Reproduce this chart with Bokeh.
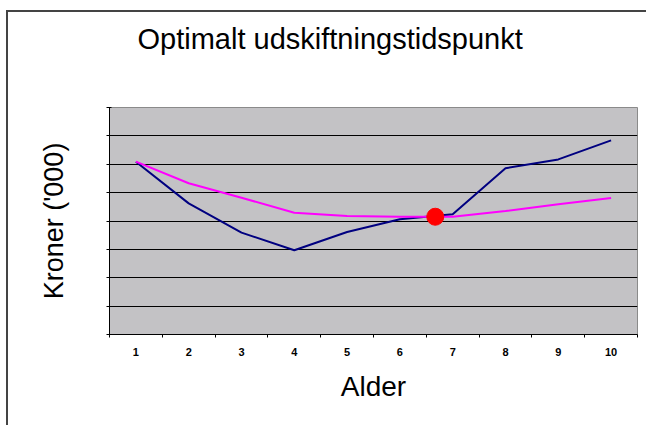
from bokeh.plotting import figure
from bokeh.models import Range1d, FixedTicker, CustomJSTickFormatter, Title
from bokeh.embed import file_html
from bokeh.resources import INLINE

# Data
ages = [1, 2, 3, 4, 5, 6, 7, 8, 9, 10]
total_cost = [6.09, 4.62, 3.59, 2.97, 3.61, 4.06, 4.24, 5.86, 6.17, 6.84]
avg_cost = [6.09, 5.33, 4.82, 4.29, 4.18, 4.15, 4.15, 4.35, 4.59, 4.81]
optimum_age = [6.67]
optimum_value = [4.15]
y_ticks = [0, 1, 2, 3, 4, 5, 6, 7, 8]
x_bounds = [0.5, 1.5, 2.5, 3.5, 4.5, 5.5, 6.5, 7.5, 8.5, 9.5, 10.5]
title_text = "Optimalt udskiftningstidspunkt"

FONT = "Liberation Sans"

p = figure(width=640, height=415, output_backend="svg", toolbar_location=None,
           x_range=Range1d(0.5, 10.5), y_range=Range1d(0, 8),
           min_border_left=101, min_border_right=11, min_border_top=95,
           min_border_bottom=93, title=title_text)

p.styles = {"margin-left": "6px", "margin-top": "10px",
            "border-top": "2px solid #444444", "border-left": "2px solid #444444"}
p.background_fill_color = "#C3C2C5"
p.border_fill_color = "white"
p.outline_line_color = "#8a8a8a"
p.outline_line_width = 1

# title (outermost panel) plus an empty spacer panel between it and the frame
p.title.align = "left"
p.title.offset = 28
p.title.standoff = 0
p.title.text_font = FONT
p.title.text_font_size = "29px"
p.title.text_font_style = "normal"
p.title.text_color = "black"
spacer = Title(text=" ", text_font_size="1px", standoff=50)
p.add_layout(spacer, "above")

# grid
p.xgrid.grid_line_color = None
p.ygrid.ticker = FixedTicker(ticks=y_ticks)
p.ygrid.grid_line_color = "black"
p.ygrid.grid_line_width = 1

# x axis
p.xaxis.ticker = FixedTicker(ticks=ages, minor_ticks=x_bounds)
p.xaxis.major_tick_out = 0
p.xaxis.major_tick_in = 0
p.xaxis.minor_tick_out = 3
p.xaxis.minor_tick_in = 0
p.xaxis.axis_line_color = "black"
p.xaxis.minor_tick_line_color = "black"
p.xaxis.major_label_text_font = FONT
p.xaxis.major_label_text_font_size = "11px"
p.xaxis.major_label_text_font_style = "bold"
p.xaxis.major_label_text_color = "black"
p.xaxis.major_label_standoff = 10
p.xaxis.axis_label = "Alder"
p.xaxis.axis_label_text_font = FONT
p.xaxis.axis_label_text_font_size = "28px"
p.xaxis.axis_label_text_font_style = "normal"
p.xaxis.axis_label_text_color = "black"
p.xaxis.axis_label_standoff = 12

# y axis
p.yaxis.ticker = FixedTicker(ticks=y_ticks)
p.yaxis.formatter = CustomJSTickFormatter(code="return ''")
p.yaxis.major_tick_out = 3
p.yaxis.major_tick_in = 2
p.yaxis.minor_tick_out = 0
p.yaxis.minor_tick_in = 0
p.yaxis.axis_line_color = "black"
p.yaxis.major_tick_line_color = "black"
p.yaxis.axis_label = "Kroner ('000)"
p.yaxis.axis_label_text_font = FONT
p.yaxis.axis_label_text_font_size = "27px"
p.yaxis.axis_label_text_font_style = "normal"
p.yaxis.axis_label_text_color = "black"
p.yaxis.axis_label_standoff = 38

p.line(ages, total_cost, line_color="#000080", line_width=2)
p.line(ages, avg_cost, line_color="#FF00FF", line_width=2)
p.scatter(optimum_age, optimum_value, size=17, fill_color="#FF0000",
          line_color="#FF0000")

open("out.html", "w").write(file_html(p, INLINE))
